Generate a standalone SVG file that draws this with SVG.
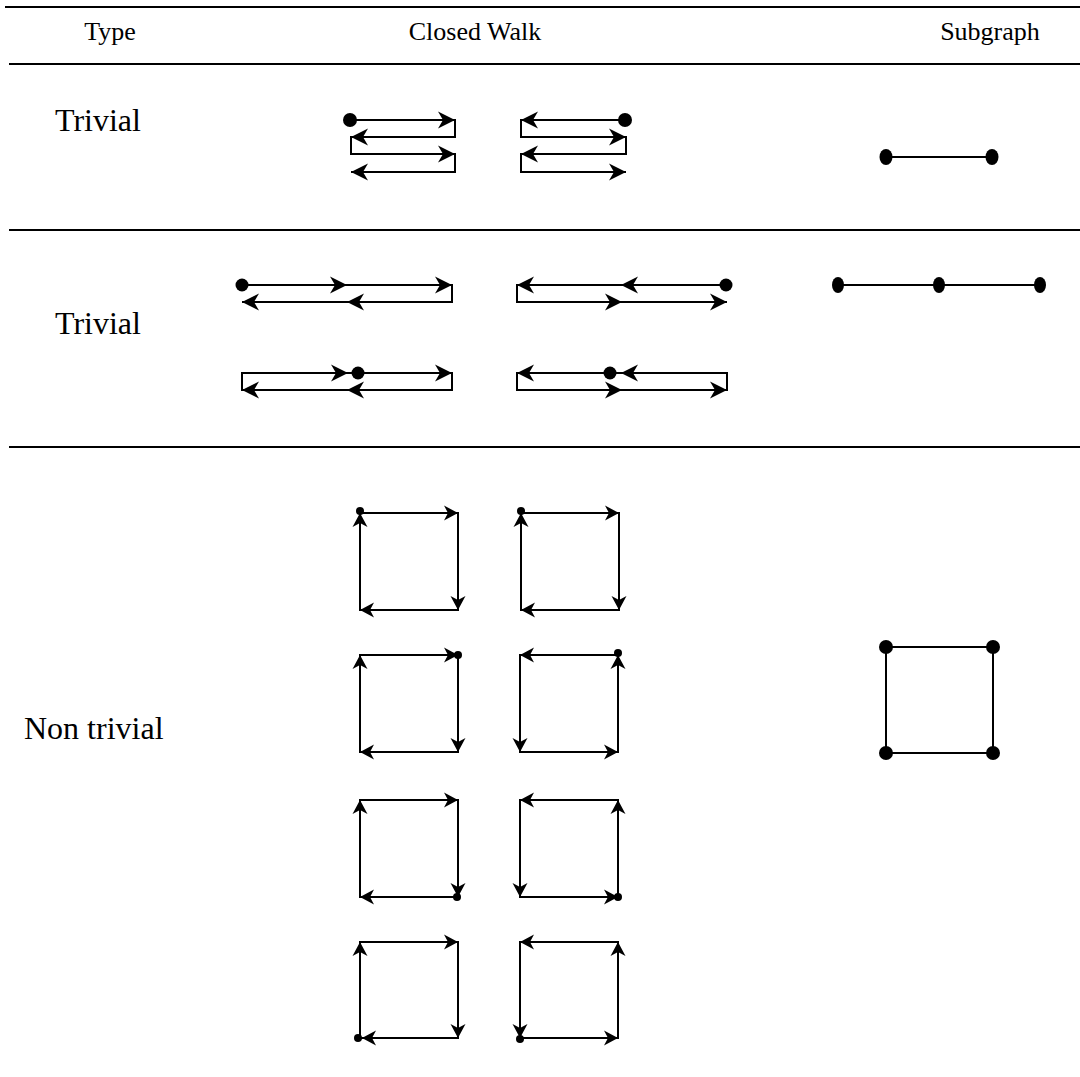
<svg xmlns="http://www.w3.org/2000/svg" xmlns:xlink="http://www.w3.org/1999/xlink" width="1080" height="1077" viewBox="0 0 1080 1077">
<style>
.txt{font-family:"Liberation Serif","Times New Roman",serif;fill:#000}
.hd{font-size:26px}
.lb{font-size:32px}
.rule{stroke:#000;stroke-width:2.2;fill:none}
.ln{stroke:#000;stroke-width:2;fill:none}
.dot{fill:#000}
</style>
<defs>
<path id="ah" d="M0,0 L-17,-8.5 L-12,0 L-17,8.5 Z" fill="#000"/>
<path id="sh" d="M0,0 L-14,-7.5 L-10,0 L-14,7.5 Z" fill="#000"/>
</defs>
<rect width="1080" height="1077" fill="#fff"/>
<g id="table">
<line class="rule" x1="5" y1="7" x2="1080" y2="7"/>
<line class="rule" x1="9" y1="64" x2="1080" y2="64"/>
<line class="rule" x1="9" y1="230" x2="1080" y2="230"/>
<line class="rule" x1="9" y1="447" x2="1080" y2="447"/>
<text class="txt hd" x="110" y="40" text-anchor="middle">Type</text>
<text class="txt hd" x="475" y="40" text-anchor="middle">Closed Walk</text>
<text class="txt hd" x="990" y="40" text-anchor="middle">Subgraph</text>
<text class="txt lb" x="55" y="131">Trivial</text>
<text class="txt lb" x="55" y="334">Trivial</text>
<text class="txt lb" x="24" y="739">Non trivial</text>
</g>
<g id="connectors">
<g id="walk-r1-a">
<path class="ln" d="M350,120 H455 V137 H351 V154 H455 V172 H351"/>
<circle class="dot" cx="350" cy="120" r="7"/>
<use href="#ah" transform="translate(455,120)"/>
<use href="#ah" transform="translate(351,137) rotate(180)"/>
<use href="#ah" transform="translate(455,154)"/>
<use href="#ah" transform="translate(351,172) rotate(180)"/>
</g>
<g id="walk-r1-b">
<path class="ln" d="M625,120 H521 V137 H626 V154 H521 V172 H626"/>
<circle class="dot" cx="625" cy="120" r="7"/>
<use href="#ah" transform="translate(521,120) rotate(180)"/>
<use href="#ah" transform="translate(626,137)"/>
<use href="#ah" transform="translate(521,154) rotate(180)"/>
<use href="#ah" transform="translate(626,172)"/>
</g>
<g id="walk-r2-a">
<path class="ln" d="M242,285 H452 V302 H242"/>
<circle class="dot" cx="242" cy="285" r="6.5"/>
<use href="#ah" transform="translate(347,285)"/>
<use href="#ah" transform="translate(452,285)"/>
<use href="#ah" transform="translate(347,302) rotate(180)"/>
<use href="#ah" transform="translate(242,302) rotate(180)"/>
</g>
<g id="walk-r2-b">
<path class="ln" d="M726,285 H517 V302 H727"/>
<circle class="dot" cx="726" cy="285" r="6.5"/>
<use href="#ah" transform="translate(621,285) rotate(180)"/>
<use href="#ah" transform="translate(517,285) rotate(180)"/>
<use href="#ah" transform="translate(622,302)"/>
<use href="#ah" transform="translate(727,302)"/>
</g>
<g id="walk-r2-c">
<path class="ln" d="M242,373 H452 V390 H242 Z"/>
<use href="#ah" transform="translate(348,373)"/>
<use href="#ah" transform="translate(452,373)"/>
<use href="#ah" transform="translate(347,390) rotate(180)"/>
<use href="#ah" transform="translate(242,390) rotate(180)"/>
<circle class="dot" cx="358" cy="373" r="6.5"/>
</g>
<g id="walk-r2-d">
<path class="ln" d="M517,373 H727 V390 H517 Z"/>
<use href="#ah" transform="translate(517,373) rotate(180)"/>
<use href="#ah" transform="translate(621,373) rotate(180)"/>
<use href="#ah" transform="translate(622,390)"/>
<use href="#ah" transform="translate(727,390)"/>
<circle class="dot" cx="610" cy="373" r="6.5"/>
</g>
<g id="sq-1a">
<rect class="ln" x="360" y="513" width="98" height="97"/>
<use href="#sh" transform="translate(360,513) rotate(-90)"/>
<use href="#sh" transform="translate(458,513)"/>
<use href="#sh" transform="translate(458,610) rotate(90)"/>
<use href="#sh" transform="translate(360,610) rotate(180)"/>
<circle class="dot" cx="360" cy="511" r="4"/>
</g>
<g id="sq-1b">
<rect class="ln" x="521" y="513" width="98" height="97"/>
<use href="#sh" transform="translate(521,513) rotate(-90)"/>
<use href="#sh" transform="translate(619,513)"/>
<use href="#sh" transform="translate(619,610) rotate(90)"/>
<use href="#sh" transform="translate(521,610) rotate(180)"/>
<circle class="dot" cx="521" cy="511" r="4"/>
</g>
<g id="sq-2a">
<rect class="ln" x="360" y="655" width="98" height="97"/>
<use href="#sh" transform="translate(360,655) rotate(-90)"/>
<use href="#sh" transform="translate(458,655)"/>
<use href="#sh" transform="translate(458,752) rotate(90)"/>
<use href="#sh" transform="translate(360,752) rotate(180)"/>
<circle class="dot" cx="458" cy="655" r="4"/>
</g>
<g id="sq-2b">
<rect class="ln" x="520" y="655" width="98" height="97"/>
<use href="#sh" transform="translate(520,655) rotate(180)"/>
<use href="#sh" transform="translate(520,752) rotate(90)"/>
<use href="#sh" transform="translate(618,752)"/>
<use href="#sh" transform="translate(618,655) rotate(-90)"/>
<circle class="dot" cx="618" cy="653" r="4"/>
</g>
<g id="sq-3a">
<rect class="ln" x="360" y="800" width="98" height="97"/>
<use href="#sh" transform="translate(360,800) rotate(-90)"/>
<use href="#sh" transform="translate(458,800)"/>
<use href="#sh" transform="translate(458,897) rotate(90)"/>
<use href="#sh" transform="translate(360,897) rotate(180)"/>
<circle class="dot" cx="457" cy="897" r="4"/>
</g>
<g id="sq-3b">
<rect class="ln" x="520" y="800" width="98" height="97"/>
<use href="#sh" transform="translate(520,800) rotate(180)"/>
<use href="#sh" transform="translate(520,897) rotate(90)"/>
<use href="#sh" transform="translate(618,897)"/>
<use href="#sh" transform="translate(618,800) rotate(-90)"/>
<circle class="dot" cx="618" cy="897" r="4"/>
</g>
<g id="sq-4a">
<rect class="ln" x="360" y="942" width="98" height="96"/>
<use href="#sh" transform="translate(360,942) rotate(-90)"/>
<use href="#sh" transform="translate(458,942)"/>
<use href="#sh" transform="translate(458,1038) rotate(90)"/>
<use href="#sh" transform="translate(362,1038) rotate(180)"/>
<circle class="dot" cx="358" cy="1038" r="4"/>
</g>
<g id="sq-4b">
<rect class="ln" x="520" y="942" width="98" height="96"/>
<use href="#sh" transform="translate(520,942) rotate(180)"/>
<use href="#sh" transform="translate(520,1038) rotate(90)"/>
<use href="#sh" transform="translate(618,1038)"/>
<use href="#sh" transform="translate(618,942) rotate(-90)"/>
<circle class="dot" cx="520" cy="1039" r="4"/>
</g>
</g>
<g id="subgraph-1">
<line class="ln" x1="886" y1="157" x2="992" y2="157"/>
<ellipse class="dot" cx="886" cy="157" rx="6.5" ry="8"/>
<ellipse class="dot" cx="992" cy="157" rx="6.5" ry="8"/>
</g>
<g id="subgraph-2">
<line class="ln" x1="838" y1="285" x2="1040" y2="285"/>
<ellipse class="dot" cx="838" cy="285" rx="6" ry="8"/>
<ellipse class="dot" cx="939" cy="285" rx="6" ry="8"/>
<ellipse class="dot" cx="1040" cy="285" rx="6" ry="8"/>
</g>
<g id="subgraph-3">
<rect class="ln" x="886" y="647" width="107" height="106"/>
<circle class="dot" cx="886" cy="647" r="7"/>
<circle class="dot" cx="993" cy="647" r="7"/>
<circle class="dot" cx="886" cy="753" r="7"/>
<circle class="dot" cx="993" cy="753" r="7"/>
</g>
</svg>
